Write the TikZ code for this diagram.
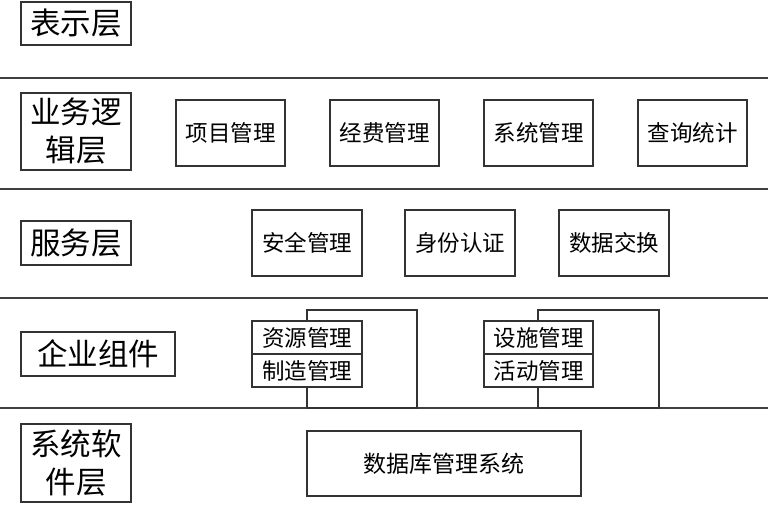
\documentclass[tikz,border=0pt]{standalone}
\usepackage{fontspec}
\newfontfamily\cjk{Noto Sans CJK SC}
\begin{document}
\begin{tikzpicture}[x=1pt,y=-1pt,
  every node/.style={inner sep=0pt, outer sep=0pt},
  lbl/.style={draw=black!80, line width=1.4pt, font=\cjk\fontsize{30.5}{38}\selectfont, align=center},
  box/.style={draw=black!80, line width=1.4pt, fill=white, font=\cjk\fontsize{22.5}{25}\selectfont},
  sep/.style={draw=black!75, line width=2pt},
  back/.style={draw=black!80, line width=1.4pt}]
\useasboundingbox (0,0) rectangle (768,505);
% separators
\coordinate (s1l) at (0,78); \coordinate (s1r) at (768,78);
\coordinate (s2l) at (0,189); \coordinate (s2r) at (768,189);
\coordinate (s3l) at (0,298); \coordinate (s3r) at (768,298);
\coordinate (s4l) at (0,408); \coordinate (s4r) at (768,408);
\draw[sep] (s1l) -- (s1r);
\draw[sep] (s2l) -- (s2r);
\draw[sep] (s3l) -- (s3r);
\draw[sep] (s4l) -- (s4r);
% layer labels
\node[lbl, minimum width=110pt, minimum height=43pt] (l1) at (76,23.5) {表示层};
\node[lbl, minimum width=110pt, minimum height=77pt] (l2) at (76,131.5) {业务逻\\辑层};
\node[lbl, minimum width=110pt, minimum height=44pt] (l3) at (76,243) {服务层};
\node[lbl, minimum width=154pt, minimum height=44pt] (l4) at (98,354) {企业组件};
\node[lbl, minimum width=110pt, minimum height=78pt] (l5) at (76,463) {系统软\\件层};
% business logic
\node[box, minimum width=109pt, minimum height=66pt] (b1) at (230.5,133) {项目管理};
\node[box, minimum width=109pt, minimum height=66pt] (b2) at (384.5,133) {经费管理};
\node[box, minimum width=109pt, minimum height=66pt] (b3) at (538.5,133) {系统管理};
\node[box, minimum width=109pt, minimum height=66pt] (b4) at (692.5,133) {查询统计};
% services
\node[box, minimum width=110pt, minimum height=66pt] (c1) at (307,243) {安全管理};
\node[box, minimum width=110pt, minimum height=66pt] (c2) at (460,243) {身份认证};
\node[box, minimum width=110pt, minimum height=66pt] (c3) at (614,243) {数据交换};
% enterprise components
\coordinate (g1a) at (307,310); \coordinate (g1b) at (417,408);
\coordinate (g2a) at (538,310); \coordinate (g2b) at (659,408);
\draw[back] (g1a) rectangle (g1b);
\draw[back] (g2a) rectangle (g2b);
\node[box, minimum width=110pt, minimum height=33pt] (e1) at (307,337.5) {资源管理};
\node[box, minimum width=110pt, minimum height=33pt] (e2) at (307,370.5) {制造管理};
\node[box, minimum width=109pt, minimum height=33pt] (e3) at (538.5,337.5) {设施管理};
\node[box, minimum width=109pt, minimum height=33pt] (e4) at (538.5,370.5) {活动管理};
% system software
\node[box, minimum width=274pt, minimum height=65pt, font=\cjk\fontsize{23}{25}\selectfont] (d1) at (444,463.5) {数据库管理系统};
\end{tikzpicture}
\end{document}
